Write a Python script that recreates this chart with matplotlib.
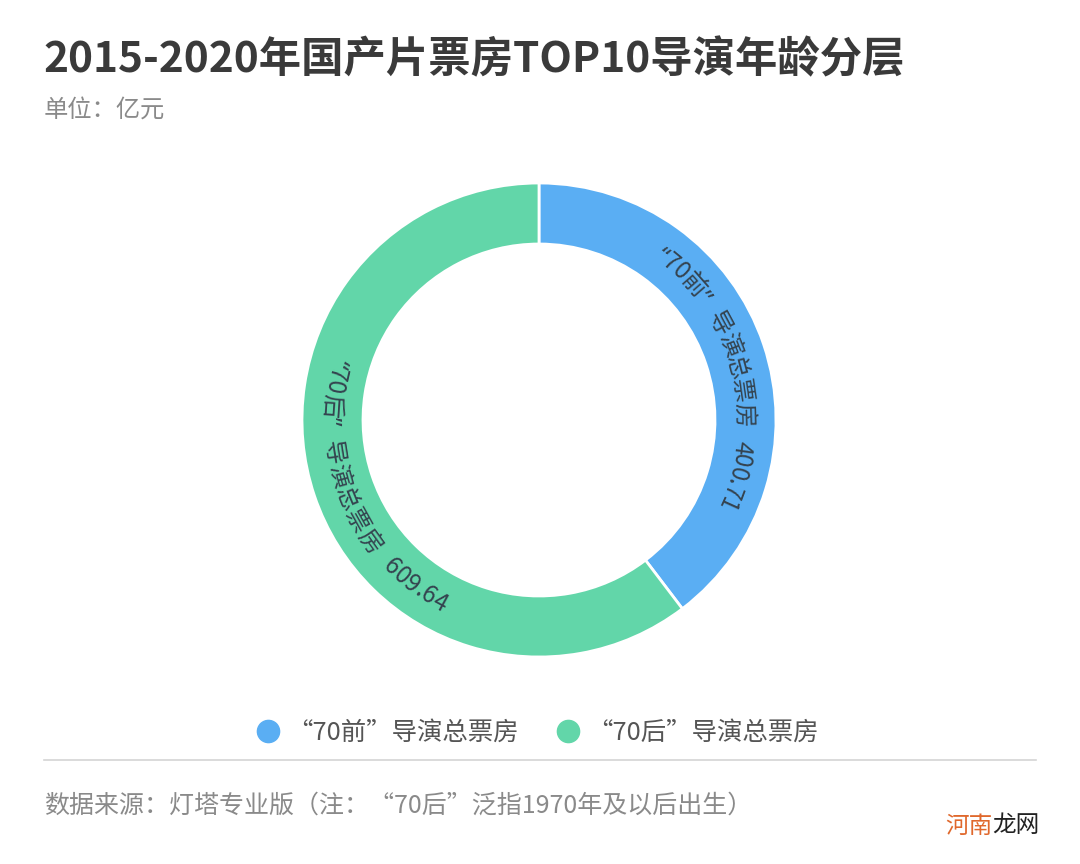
import matplotlib
matplotlib.use('Agg')
import matplotlib.pyplot as plt
import numpy as np
from matplotlib.lines import Line2D

plt.rcParams['font.family'] = ['Noto Sans CJK SC', 'DejaVu Sans']

# data
legend_labels = ['“70前”导演总票房', '“70后”导演总票房']
ring_labels = ['“70前”', '“70后”']
ring_names = ['导演总票房', '导演总票房']
values = [400.71, 609.64]
colors = ['#5aaef3', '#62d6a9']

title = '2015-2020年国产片票房TOP10导演年龄分层'
subtitle = '单位：亿元'
source = '数据来源：灯塔专业版（注：“70后”泛指1970年及以后出生）'

W, H = 1080, 864
fig = plt.figure(figsize=(W / 100, H / 100), dpi=100)
fig.patch.set_facecolor('white')


def fx(x):
    return x / W


def fy(y):
    return 1 - y / H


fig.text(fx(43), fy(60), title, fontsize=30.5, fontweight='bold', color='#3a3a3a',
         ha='left', va='center')
fig.text(fx(44), fy(110), subtitle, fontsize=17.5, color='#8a8a8a', ha='left', va='center')

# donut, axes in pixel units
cx, cy = 539, 420
half = 250
ax = fig.add_axes([fx(cx - half), fy(cy + half), 2 * half / W, 2 * half / H])
R_out, ring_w = 237, 61
wedges, _ = ax.pie(values, colors=colors, startangle=90, counterclock=False,
                   radius=R_out,
                   wedgeprops=dict(width=ring_w, edgecolor='white', linewidth=2))
ax.set_xlim(-half, half)
ax.set_ylim(-half, half)
ax.set_aspect('equal')
ax.axis('off')

# curved labels along the ring
renderer = fig.canvas.get_renderer()
fs = 17.3
fs_px = fs * 100 / 72
shift = 4.5  # degrees along the reading direction


def char_family(ch):
    if ch in '“”':
        return 'Noto Sans'
    return ['Noto Sans CJK SC', 'DejaVu Sans']


def advance(ch):
    if ch == ' ':
        return 0.6 * fs_px
    fam = char_family(ch)
    t1 = fig.text(0, 0, '|' + ch + '|', fontsize=fs, family=fam)
    t2 = fig.text(0, 0, '||', fontsize=fs, family=fam)
    w = t1.get_window_extent(renderer).width - t2.get_window_extent(renderer).width
    t1.remove()
    t2.remove()
    return w


r_text = R_out - ring_w / 2
for wdg, lab, name, val in zip(wedges, ring_labels, ring_names, values):
    s = lab + ' ' + name + ' ' + f'{val:.2f}'
    widths = [advance(c) for c in s]
    total = sum(widths)
    mid = (wdg.theta1 + wdg.theta2) / 2
    right = np.cos(np.radians(mid)) >= 0
    direction = -1 if right else 1
    mid += direction * shift
    rb = r_text - 0.36 * fs_px if right else r_text + 0.36 * fs_px
    pos = 0
    for c, w in zip(s, widths):
        centre = pos + w / 2
        pos += w
        if c == ' ':
            continue
        th = mid + direction * np.degrees((centre - total / 2) / r_text)
        rot = th - 90 if right else th + 90
        ax.text(rb * np.cos(np.radians(th)), rb * np.sin(np.radians(th)), c,
                fontsize=fs, family=char_family(c), color='#34434f', rotation=rot,
                rotation_mode='anchor', ha='center', va='baseline')

# legend
handles = [Line2D([], [], marker='o', linestyle='', markersize=16,
                  markerfacecolor=c, markeredgecolor=c) for c in colors]
fig.legend(handles, legend_labels, loc='center', bbox_to_anchor=(0.497, fy(733)),
           ncol=2, frameon=False, fontsize=18.3, labelcolor='#555555',
           handletextpad=0.25, columnspacing=1.45, handlelength=1.0)

fig.add_artist(Line2D([fx(44), fx(1036)], [fy(760), fy(760)], color='#d4d4d4',
                      lw=1.2, transform=fig.transFigure))

fig.text(fx(44), fy(806), source, fontsize=18, color='#8a8a8a', ha='left', va='center')

# watermark
fig.text(fx(945), fy(826), '河南', fontsize=17, color='#e0682c', ha='left', va='center')
fig.text(fx(992), fy(826), '龙网', fontsize=17, color='#222222', ha='left', va='center')

fig.savefig('out.png', dpi=100, facecolor='white')
